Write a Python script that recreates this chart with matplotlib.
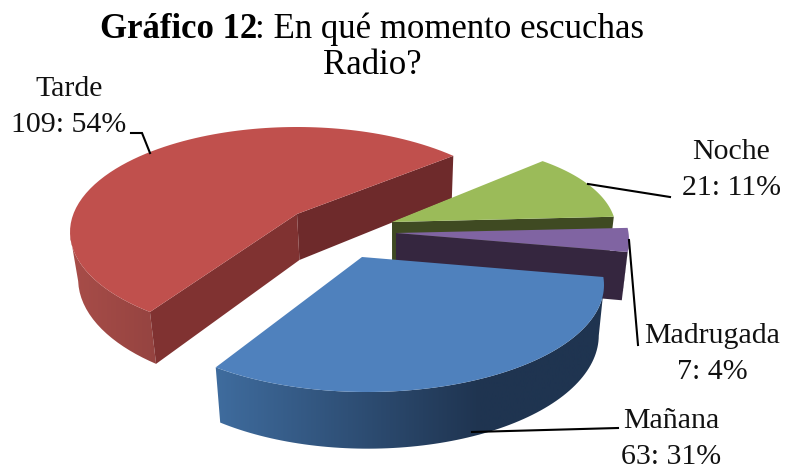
"""Exploded 3D pie chart: en que momento escuchas radio."""

import matplotlib

matplotlib.use("Agg")
import matplotlib.pyplot as plt
import numpy as np
from matplotlib.colors import LinearSegmentedColormap
from matplotlib.patches import Polygon

# Clockwise order, painted back to front further below
CATEGORIES = ["Mañana", "Tarde", "Noche", "Madrugada"]
VALUES = [63, 109, 21, 7]
PERCENTS = [31, 54, 11, 4]

# Per slice projection: apex, ellipse centre, radii, squash and start angle
SLICE_STYLE = {
    "Mañana": dict(apex=(362, 257), centre=(367, 285), radii=(237, 107), squash=0.49,
                   start=99.6, top="#4F81BD", side=("#3F6C9E", "#1F3450"), ramp=(215, 480),
                   cuts=[]),
    "Tarde": dict(apex=(297, 214), centre=(297, 232), radii=(227, 105), squash=0.6,
                  start=222.0, top="#C0504D", side=("#A84D49", "#944340"), ramp=(70, 160),
                  cuts=[(-1, "#6E2A2B"), (0, "#803231")]),
    "Noche": dict(apex=(392, 222), centre=(433, 230), radii=(183, 86), squash=0.47,
                  start=49.3, top="#9BBB59", side=("#3F4A22", "#3F4A22"), ramp=(392, 620),
                  cuts=[(-1, "#3F4A22")]),
    "Madrugada": dict(apex=(396, 233), centre=(396, 240), radii=(233, 110), squash=0.47,
                      start=87.3, top="#8064A2", side=("#35263F", "#35263F"), ramp=(396, 630),
                      cuts=[(-1, "#35263F")]),
}
PAINT_ORDER = ["Tarde", "Noche", "Madrugada", "Mañana"]
LABEL_POS = {
    "Mañana": (671, 439),
    "Tarde": (69, 107),
    "Noche": (731, 170),
    "Madrugada": (712, 354),
}
LEADERS = {
    "Mañana": [(472, 432), (618, 428)],
    "Tarde": [(131, 133), (142, 133), (150, 153)],
    "Noche": [(588, 184), (670, 197)],
    "Madrugada": [(629, 240), (638, 345)],
}

FONT = "Liberation Serif"


def rim(style, value, total, n=90):
    """Outer rim of a slice: rays from the apex cut with the ellipse."""
    span = 360.0 * value / total
    angles = np.radians(np.linspace(style["start"], style["start"] + span, n))
    ax_, ay = style["apex"]
    cx, cy = style["centre"]
    rx, ry = style["radii"]
    dx = np.sin(angles)
    dy = -style["squash"] * np.cos(angles)
    ox = (ax_ - cx) / rx
    oy = (ay - cy) / ry
    a = (dx / rx) ** 2 + (dy / ry) ** 2
    b = 2 * (ox * dx / rx + oy * dy / ry)
    c = ox**2 + oy**2 - 1
    s = (-b + np.sqrt(b**2 - 4 * a * c)) / (2 * a)
    return np.column_stack([ax_ + s * dx, ay + s * dy])


def extrude(points):
    """Drop points to the underside, with a little perspective."""
    points = np.atleast_2d(points)
    x = points[:, 0] + (395 - points[:, 0]) * 0.025
    y = points[:, 1] + 46 + (points[:, 1] - 214) * 0.06
    return np.column_stack([x, y])


def draw_side(ax, style, arc, zorder):
    """Rim side as a horizontal gradient, clipped to the front half of the rim."""
    front = arc[arc[:, 1] >= style["centre"][1]]
    if len(front) < 2:
        return
    outline = Polygon(np.vstack([front, extrude(front)[::-1]]), fc="none", ec="none",
                      transform=ax.transData)
    ax.add_patch(outline)
    cmap = LinearSegmentedColormap.from_list("side", style["side"])
    x0, x1 = style["ramp"]
    left = arc[:, 0].min() - 5
    right = arc[:, 0].max() + 5
    xs = np.linspace(left, right, 256)
    grad = np.clip((xs - x0) / (x1 - x0), 0, 1)[None, :]
    im = ax.imshow(grad, cmap=cmap, vmin=0, vmax=1, aspect="auto", zorder=zorder,
                   extent=(left, right, 469, 0))
    im.set_clip_path(outline)


def draw_slice(ax, style, value, total, zorder):
    """Rim side, then the cut faces, then the top of one slice."""
    arc = rim(style, value, total)
    low = extrude(arc)
    apex = np.array(style["apex"], dtype=float)
    apex_low = extrude(apex)[0]

    draw_side(ax, style, arc, zorder)
    for idx, color in style["cuts"]:
        ax.add_patch(Polygon([apex, arc[idx], low[idx], apex_low], fc=color, ec="none",
                             zorder=zorder + 1))
    ax.add_patch(Polygon(np.vstack([apex, arc]), fc=style["top"], ec="none", zorder=zorder + 2))


def main():
    fig = plt.figure(figsize=(7.86, 4.69), dpi=100)
    ax = fig.add_axes([0, 0, 1, 1])

    total = sum(VALUES)
    lookup = dict(zip(CATEGORIES, VALUES))
    for i, name in enumerate(PAINT_ORDER):
        draw_slice(ax, SLICE_STYLE[name], lookup[name], total, zorder=1 + i * 3)

    ax.set_xlim(0, 786)
    ax.set_ylim(469, 0)
    ax.axis("off")

    for name, pts in LEADERS.items():
        xs, ys = zip(*pts)
        ax.plot(xs, ys, color="black", lw=1.5, solid_joinstyle="miter", zorder=50)

    for name, value, pct in zip(CATEGORIES, VALUES, PERCENTS):
        x, y = LABEL_POS[name]
        ax.text(x, y, f"{name}\n{value}: {pct}%", family=FONT, fontsize=21.5, color="#111111",
                ha="center", va="center", linespacing=1.48, zorder=50)

    ax.text(100, 38, "Gráfico 12", family=FONT, fontsize=25, weight="bold", va="baseline")
    ax.text(255, 38, ": En qué momento escuchas", family=FONT, fontsize=25, va="baseline")
    ax.text(372, 74, "Radio?", family=FONT, fontsize=25, ha="center", va="baseline")

    fig.savefig("out.png", dpi=100, facecolor="white")


if __name__ == "__main__":
    main()
